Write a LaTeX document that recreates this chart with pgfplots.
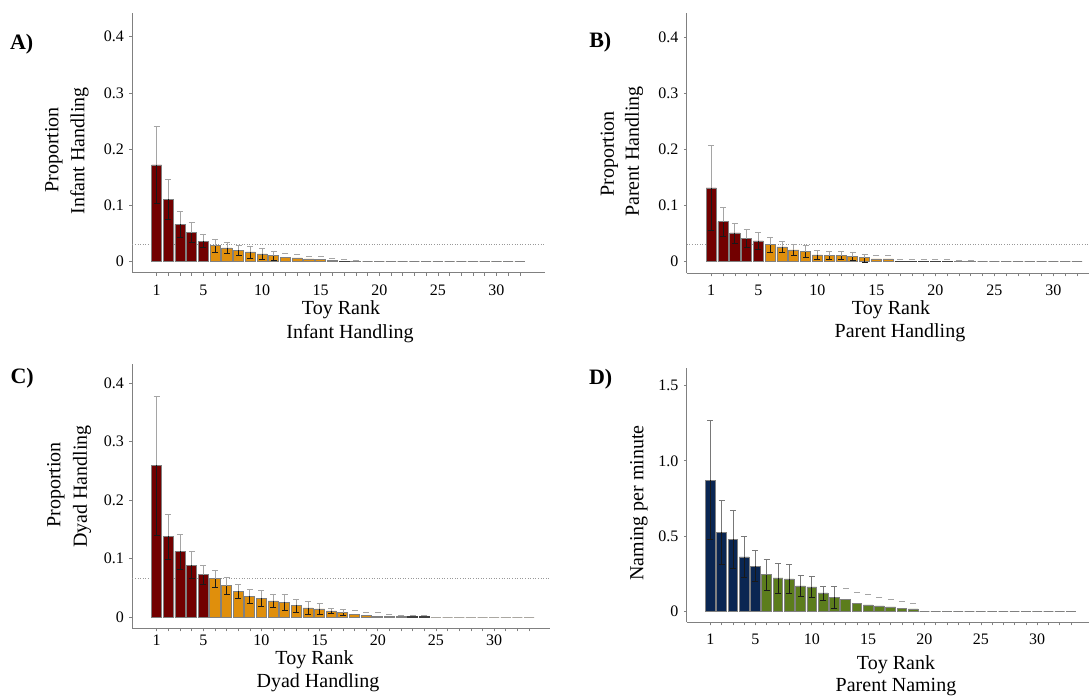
\documentclass[border=0pt]{standalone}
\usepackage{fontspec}
\setmainfont{Liberation Serif}
\usepackage{pgfplots}
\usepackage{pgfplotstable}
\pgfplotsset{compat=1.18}
\definecolor{dred}{RGB}{114,0,0}
\definecolor{orng}{RGB}{224,143,12}
\definecolor{navy}{RGB}{10,38,82}
\definecolor{grn}{RGB}{92,125,28}
\definecolor{bgray}{RGB}{128,128,128}
\definecolor{axgray}{RGB}{128,128,128}
\definecolor{eup}{RGB}{165,165,165}
\definecolor{eupd}{RGB}{120,120,120}
\definecolor{edn}{RGB}{25,25,25}

\pgfplotstableread{
r v e c
1 0.172 0.068 0
2 0.111 0.0356 0
3 0.0664 0.0234 0
4 0.0514 0.0178 0
5 0.0361 0.0115 0
6 0.0283 0.011 0
7 0.0242 0.0094 0
8 0.0201 0.0095 0
9 0.0171 0.0107 0
10 0.0135 0.0095 0
11 0.0105 0.0085 0
12 0.0077 0 0.0148
13 0.0064 0 0.013
14 0.0046 0 0.010
15 0.0041 0 0.0094
16 0.0023 0 0.0052
17 0.0008 0 0.0041
18 0.0005 0 0.0023
19 0 0 0
20 0 0 0
21 0 0 0
22 0 0 0
23 0 0 0
24 0 0 0
25 0 0 0
26 0 0 0
27 0 0 0
28 0 0 0
29 0 0 0
30 0 0 0
31 0 0 0
32 0 0 0
}\dataA

\pgfplotstableread{
r v e c
1 0.1311 0.0758 0
2 0.0712 0.0255 0
3 0.051 0.0178 0
4 0.0409 0.016 0
5 0.0368 0.0148 0
6 0.0302 0.0137 0
7 0.0261 0.010 0
8 0.0208 0.0092 0
9 0.0178 0.0105 0
10 0.0119 0.0077 0
11 0.0107 0.0068 0
12 0.0107 0.0068 0
13 0.0089 0.007 0
14 0.0066 0.0071 0
15 0.0048 0 0.0119
16 0.0048 0 0.0119
17 0.0010 0 0.0048
18 0.0010 0 0.0048
19 0.0010 0 0.0048
20 0.0010 0 0.0045
21 0.0010 0 0.0045
22 0.0005 0 0.0030
23 0.0005 0 0.0030
24 0 0 0
25 0 0 0
26 0 0 0
27 0 0 0
28 0 0 0
29 0 0 0
30 0 0 0
31 0 0 0
32 0 0 0
}\dataB

\pgfplotstableread{
r v e c
1 0.259 0.119 0
2 0.1378 0.0385 0
3 0.1121 0.030 0
4 0.0889 0.0236 0
5 0.0723 0.0163 0
6 0.0655 0.014 0
7 0.0535 0.014 0
8 0.0444 0.012 0
9 0.0359 0.0118 0
10 0.0318 0.0137 0
11 0.0274 0.0117 0
12 0.025 0.013 0
13 0.0198 0.0112 0
14 0.0154 0.0108 0
15 0.0137 0.0095 0
16 0.0103 0.0045 0
17 0.0074 0.005 0
18 0.0051 0 0.012
19 0.0034 0 0.0085
20 0.0017 0 0.0074
21 0.0006 0 0.0045
22 0.0004 0 0.0034
23 0.0008 0 0.002
24 0.0008 0 0.002
25 0 0 0
26 0 0 0
27 0 0 0
28 0 0 0
29 0 0 0
30 0 0 0
31 0 0 0
32 0 0 0
33 0 0 0
}\dataC

\pgfplotstableread{
r v e c
1 0.8724 0.397 0
2 0.525 0.214 0
3 0.4784 0.19 0
4 0.3608 0.136 0
5 0.299 0.103 0
6 0.2432 0.103 0
7 0.2213 0.099 0
8 0.2146 0.0965 0
9 0.1681 0.071 0
10 0.1615 0.07 0
11 0.1216 0.047 0
12 0.093 0.072 0
13 0.0797 0 0.1528
14 0.0505 0 0.1236
15 0.0419 0 0.113
16 0.0352 0 0.0904
17 0.0286 0 0.0817
18 0.0219 0 0.0684
19 0.0153 0 0.0551
20 0 0 0
21 0 0 0
22 0 0 0
23 0 0 0
24 0 0 0
25 0 0 0
26 0 0 0
27 0 0 0
28 0 0 0
29 0 0 0
30 0 0 0
31 0 0 0
32 0 0 0
33 0 0 0
}\dataD

\pgfplotsset{
  panel/.style={
    scale only axis, anchor=south west,
    axis lines*=left,
    axis line style={draw=axgray, line width=1pt, -},
    tick align=outside, major tick length=3pt, minor tick length=3pt,
    every tick/.style={draw=axgray, line width=0.6pt},
    tick label style={font=\fontsize{16}{16}\selectfont, text=black},
    yticklabel style={xshift=-2pt},
    xticklabel style={yshift=-5pt},
    xtick={1,5,10,15,20,25,30}, xticklabels={1,5,10,15,20,25,30},
    /pgf/number format/assume math mode=true,
    clip=false,
  },
  mybar/.style={ybar, bar width=0.86, bar shift=0pt, draw=bgray, line width=0.8pt, fill=#1},
  errup/.style={draw=none, mark=none, forget plot,
    error bars/y dir=plus, error bars/y explicit,
    error bars/error mark=-,
    error bars/error bar style={draw=#1, line width=0.7pt, solid},
    error bars/error mark options={draw=#1, line width=0.7pt, mark size=3pt, rotate=90}},
  errdn/.style={draw=none, mark=none, forget plot,
    error bars/y dir=minus, error bars/y explicit,
    error bars/error mark=-,
    error bars/error bar style={draw=edn, line width=0.7pt, solid},
    error bars/error mark options={draw=edn, line width=0.7pt, mark size=3pt, rotate=90}},
  caps/.style={only marks, mark=-, forget plot,
    mark options={draw=eup, line width=0.7pt, mark size=3pt}},
  chance/.style={draw=gray!80, line width=0.7pt, dash pattern=on 1pt off 1.6pt, forget plot},
}
\newcommand\lab{\fontsize{20}{24}\selectfont}
\newcommand\pan{\fontsize{22}{26}\selectfont\bfseries}

\begin{document}
\begin{tikzpicture}
\path[use as bounding box] (0pt,0pt) rectangle (1089pt,698pt);

% ---------------- A
\begin{axis}[panel, at={(132.3pt,425pt)}, width=412.7pt, height=260pt,
  xmin=-1.07, xmax=34.14, ymin=-0.0203, ymax=0.4423,
  minor xtick={1,...,32},
  ytick={0,0.1,0.2,0.3,0.4}, yticklabels={0,0.1,0.2,0.3,0.4}]
\addplot[chance] coordinates {(-1.07,0.03125) (34.14,0.03125)};
\addplot[mybar=dred, restrict x to domain=1:5] table[x=r,y=v]{\dataA};
\addplot[mybar=orng, restrict x to domain=6:32] table[x=r,y=v]{\dataA};
\addplot[mybar=orng, draw=black!75, restrict x to domain=17:17] table[x=r,y=v]{\dataA};
\addplot[errup=eup, restrict x to domain=1:11] table[x=r,y=v,y error=e]{\dataA};
\addplot[errdn, restrict x to domain=1:11] table[x=r,y=v,y error=e]{\dataA};
\addplot[caps, restrict x to domain=12:18] table[x=r,y=c]{\dataA};
\end{axis}

% ---------------- B
\begin{axis}[panel, at={(686.8pt,424.7pt)}, width=402.2pt, height=260.6pt,
  xmin=-1.07, xmax=33.02, ymin=-0.0208, ymax=0.4429,
  minor xtick={1,...,32},
  ytick={0,0.1,0.2,0.3,0.4}, yticklabels={0,0.1,0.2,0.3,0.4}]
\addplot[chance] coordinates {(-1.07,0.03125) (33.02,0.03125)};
\addplot[mybar=dred, restrict x to domain=1:5] table[x=r,y=v]{\dataB};
\addplot[mybar=orng, restrict x to domain=6:32] table[x=r,y=v]{\dataB};
\addplot[mybar=orng, draw=black!75, restrict x to domain=17:21] table[x=r,y=v]{\dataB};
\addplot[errup=eup, restrict x to domain=1:14] table[x=r,y=v,y error=e]{\dataB};
\addplot[errdn, restrict x to domain=1:14] table[x=r,y=v,y error=e]{\dataB};
\addplot[caps, restrict x to domain=15:23] table[x=r,y=c]{\dataB};
\end{axis}

% ---------------- C
\begin{axis}[panel, at={(132.4pt,69.7pt)}, width=417.6pt, height=264.3pt,
  xmin=-1.09, xmax=34.8, ymin=-0.0193, ymax=0.4325,
  xticklabel style={yshift=5pt},
  minor xtick={1,...,33},
  ytick={0,0.1,0.2,0.3,0.4}, yticklabels={0,0.1,0.2,0.3,0.4}]
\addplot[chance] coordinates {(-1.09,0.066) (34.8,0.066)};
\addplot[mybar=dred, restrict x to domain=1:5] table[x=r,y=v]{\dataC};
\addplot[mybar=orng, restrict x to domain=6:33] table[x=r,y=v]{\dataC};
\addplot[mybar=orng, draw=black!75, restrict x to domain=23:24] table[x=r,y=v]{\dataC};
\addplot[errup=eup, restrict x to domain=1:17] table[x=r,y=v,y error=e]{\dataC};
\addplot[errdn, restrict x to domain=1:17] table[x=r,y=v,y error=e]{\dataC};
\addplot[caps, restrict x to domain=18:24] table[x=r,y=c]{\dataC};
\end{axis}

% ---------------- D
\begin{axis}[panel, at={(686.8pt,75.7pt)}, width=402.2pt, height=253.8pt,
  xmin=-1.09, xmax=34.6, ymin=-0.0731, ymax=1.6133,
  minor xtick={1,...,33},
  ytick={0,0.5,1.0,1.5}, yticklabels={0,0.5,1.0,1.5}]
\addplot[mybar=navy, restrict x to domain=1:5] table[x=r,y=v]{\dataD};
\addplot[mybar=grn, restrict x to domain=6:33] table[x=r,y=v]{\dataD};
\addplot[errup=eupd, restrict x to domain=1:12] table[x=r,y=v,y error=e]{\dataD};
\addplot[errdn, restrict x to domain=1:12] table[x=r,y=v,y error=e]{\dataD};
\addplot[caps, restrict x to domain=13:19] table[x=r,y=c]{\dataD};
\end{axis}

% ---------------- texts
\node[font=\pan] at (21.7pt,654pt) {A)};
\node[font=\lab, rotate=90] at (54pt,548pt) {Proportion};
\node[font=\lab, rotate=90] at (79.5pt,547pt) {Infant Handling};
\node[font=\lab] at (341pt,388pt) {Toy Rank};
\node[font=\lab] at (350pt,364pt) {Infant Handling};

\node[font=\pan] at (600.3pt,655.5pt) {B)};
\node[font=\lab, rotate=90] at (609.3pt,544pt) {Proportion};
\node[font=\lab, rotate=90] at (634pt,546.3pt) {Parent Handling};
\node[font=\lab] at (891pt,388pt) {Toy Rank};
\node[font=\lab] at (900pt,365pt) {Parent Handling};

\node[font=\pan] at (22.2pt,319.5pt) {C)};
\node[font=\lab, rotate=90] at (56pt,213pt) {Proportion};
\node[font=\lab, rotate=90] at (82pt,211.5pt) {Dyad Handling};
\node[font=\lab] at (314.5pt,38pt) {Toy Rank};
\node[font=\lab] at (318pt,15.7pt) {Dyad Handling};

\node[font=\pan] at (600.6pt,318.5pt) {D)};
\node[font=\lab, rotate=90] at (639pt,195pt) {Naming per minute};
\node[font=\lab] at (896pt,33pt) {Toy Rank};
\node[font=\lab] at (896pt,10.7pt) {Parent Naming};
\end{tikzpicture}
\end{document}
